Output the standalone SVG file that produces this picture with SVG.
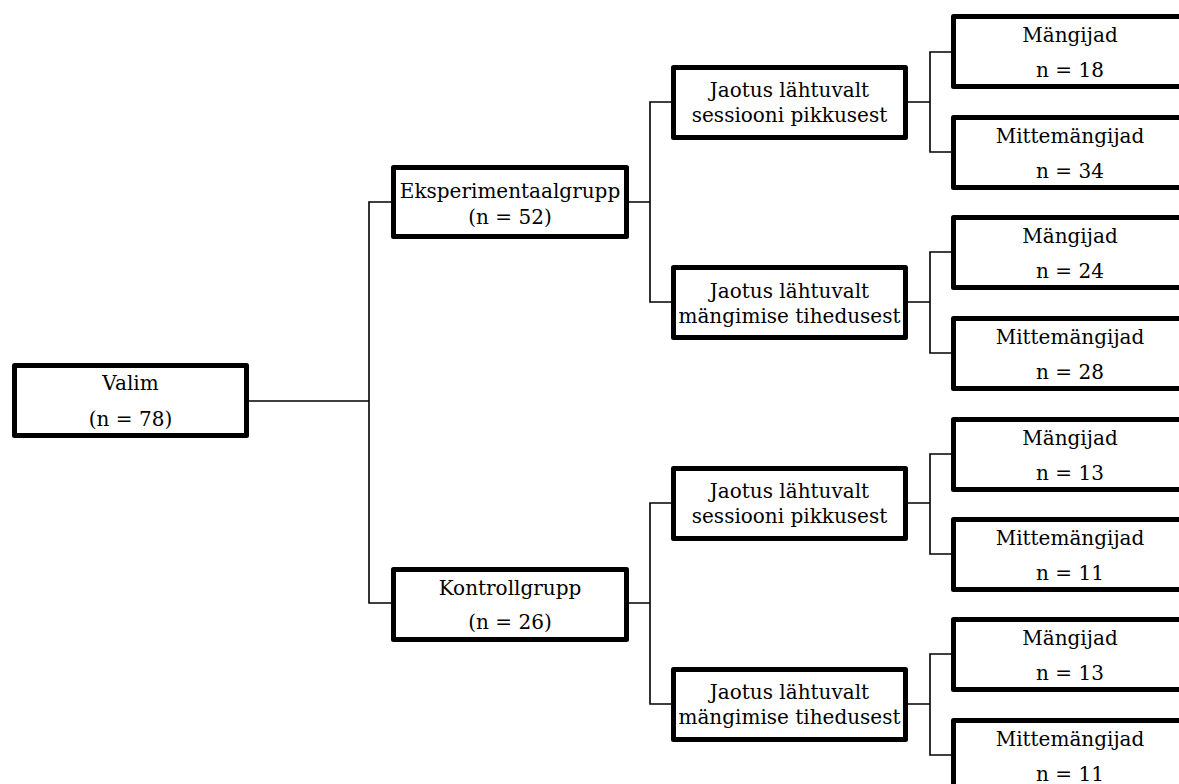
<svg xmlns="http://www.w3.org/2000/svg" width="1179" height="784" viewBox="0 0 1179 784">
<style>
.box{fill:#fff;stroke:#000;stroke-width:5;stroke-linejoin:round}
.t{font-family:"DejaVu Serif","Liberation Serif",serif;font-size:20px;fill:#000;text-anchor:middle}
.c{fill:none;stroke:#000;stroke-width:1.6}
</style>
<rect width="1179" height="784" fill="#fff"/>
<g id="connectors">
<path class="c" d="M249,401 H369 M391,202 H369 V603 H391"/>
<path class="c" d="M629,202 H650 M671,102 H650 V302 H671"/>
<path class="c" d="M629,603 H650 M671,503 H650 V704 H671"/>
<path class="c" d="M908,102 H930 M951,52 H930 V152 H951"/>
<path class="c" d="M908,302 H930 M951,252 H930 V353 H951"/>
<path class="c" d="M908,503 H930 M951,454 H930 V554 H951"/>
<path class="c" d="M908,704 H930 M951,654 H930 V755 H951"/>
</g>
<g id="valim"><rect class="box" x="14.5" y="365.5" width="232" height="70"/><text class="t" x="130.5" y="390">Valim</text><text class="t" x="130.5" y="426">(n = 78)</text></g>
<g id="eksp"><rect class="box" x="393.5" y="167.5" width="233" height="69"/><text class="t" x="510" y="198">Eksperimentaalgrupp</text><text class="t" x="510" y="224">(n = 52)</text></g>
<g id="kontroll"><rect class="box" x="393.5" y="569.5" width="233" height="70"/><text class="t" x="510" y="595">Kontrollgrupp</text><text class="t" x="510" y="629">(n = 26)</text></g>
<g id="jaotus1"><rect class="box" x="673.5" y="67.5" width="232" height="70"/><text class="t" x="789.5" y="97">Jaotus lähtuvalt</text><text class="t" x="789.5" y="122">sessiooni pikkusest</text></g>
<g id="jaotus2"><rect class="box" x="673.5" y="267.5" width="232" height="70"/><text class="t" x="789.5" y="298">Jaotus lähtuvalt</text><text class="t" x="789.5" y="323">mängimise tihedusest</text></g>
<g id="jaotus3"><rect class="box" x="673.5" y="468.5" width="232" height="70"/><text class="t" x="789.5" y="498">Jaotus lähtuvalt</text><text class="t" x="789.5" y="523">sessiooni pikkusest</text></g>
<g id="jaotus4"><rect class="box" x="673.5" y="669.5" width="232" height="70"/><text class="t" x="789.5" y="699">Jaotus lähtuvalt</text><text class="t" x="789.5" y="724">mängimise tihedusest</text></g>
<g id="leaf1"><rect class="box" x="953.5" y="16.5" width="233" height="70"/><text class="t" x="1070" y="42">Mängijad</text><text class="t" x="1070" y="77">n = 18</text></g>
<g id="leaf2"><rect class="box" x="953.5" y="117.5" width="233" height="70"/><text class="t" x="1070" y="143">Mittemängijad</text><text class="t" x="1070" y="178">n = 34</text></g>
<g id="leaf3"><rect class="box" x="953.5" y="217.5" width="233" height="70"/><text class="t" x="1070" y="243">Mängijad</text><text class="t" x="1070" y="278">n = 24</text></g>
<g id="leaf4"><rect class="box" x="953.5" y="318.5" width="233" height="70"/><text class="t" x="1070" y="344">Mittemängijad</text><text class="t" x="1070" y="379">n = 28</text></g>
<g id="leaf5"><rect class="box" x="953.5" y="419.5" width="233" height="70"/><text class="t" x="1070" y="445">Mängijad</text><text class="t" x="1070" y="480">n = 13</text></g>
<g id="leaf6"><rect class="box" x="953.5" y="519.5" width="233" height="70"/><text class="t" x="1070" y="545">Mittemängijad</text><text class="t" x="1070" y="580">n = 11</text></g>
<g id="leaf7"><rect class="box" x="953.5" y="619.5" width="233" height="70"/><text class="t" x="1070" y="645">Mängijad</text><text class="t" x="1070" y="680">n = 13</text></g>
<g id="leaf8"><rect class="box" x="953.5" y="720.5" width="233" height="70"/><text class="t" x="1070" y="746">Mittemängijad</text><text class="t" x="1070" y="781">n = 11</text></g>
</svg>
